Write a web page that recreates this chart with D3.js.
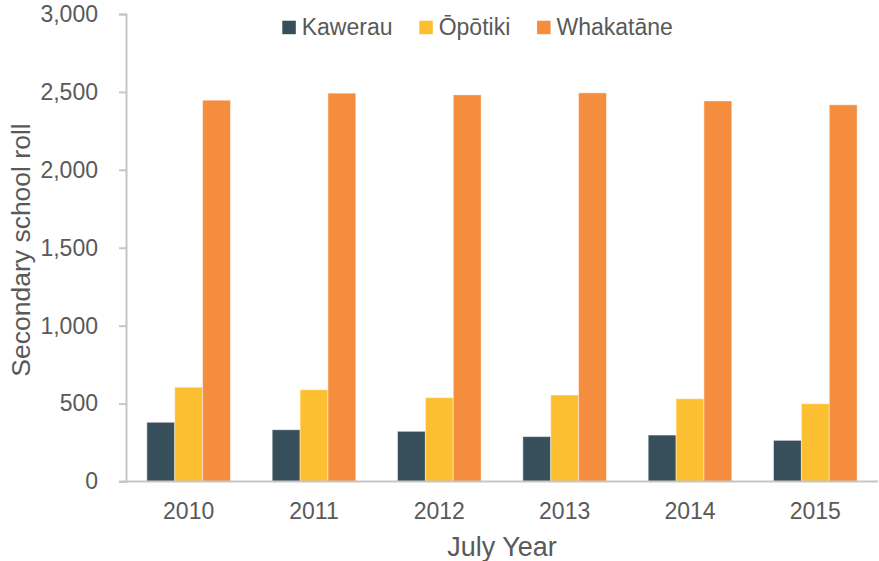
<!DOCTYPE html>
<html>
<head>
<meta charset="utf-8">
<script src="https://cdn.jsdelivr.net/npm/d3@7"></script>
<style>
  body { margin: 0; background: #fff; }
  text { font-family: "Liberation Sans", Arial, sans-serif; fill: #595959; }
</style>
</head>
<body>
<svg width="879" height="561"></svg>
<script>
// chart data
const years = ["2010", "2011", "2012", "2013", "2014", "2015"];
const seriesNames = ["Kawerau", "Ōpōtiki", "Whakatāne"];
const kawerau = [380, 332, 322, 288, 298, 264];
const opotiki = [605, 589, 538, 555, 531, 499];
const whakatane = [2447, 2492, 2481, 2494, 2442, 2417];
const yTicks = [0, 500, 1000, 1500, 2000, 2500, 3000];

const colours = ["#374f5a", "#fdbf32", "#f58d3e"];
const values = [kawerau, opotiki, whakatane];

let svg = d3.select("svg");
const plotLeft = 126, plotRight = 878, plotTop = 14, plotBottom = 481.5;

let x = d3.scaleBand().domain(years).range([plotLeft, plotRight]).paddingInner(0.333).paddingOuter(0.1665);
let xs = d3.scaleBand().domain(seriesNames).range([0, x.bandwidth()]);
let y = d3.scaleLinear().domain([0, 3000]).range([plotBottom, plotTop]);

let table = years.map(function (yr, i) {
    return seriesNames.map(function (s, j) {
        return { year: yr, series: s, value: values[j][i], colour: colours[j] };
    });
});

// bars
svg.append("g").selectAll("g")
    .data(table)
    .enter()
    .append("g")
    .attr("transform", function (d) { return "translate(" + x(d[0].year) + ",0)"; })
    .selectAll("rect")
    .data(function (d) { return d; })
    .enter()
    .append("rect")
    .attr("x", function (d) { return xs(d.series); })
    .attr("width", xs.bandwidth())
    .attr("y", function (d) { return y(d.value); })
    .attr("height", function (d) { return y(0) - y(d.value); })
    .attr("fill", function (d) { return d.colour; })
    .attr("stroke", "rgba(255,255,255,0.45)")
    .attr("stroke-width", 1);

// y axis
let yAxis = svg.append("g")
    .attr("transform", "translate(" + plotLeft + ",0)")
    .call(d3.axisLeft(y).tickValues(yTicks).tickFormat(d3.format(",")).tickSizeInner(7).tickSizeOuter(7).tickPadding(21));
yAxis.selectAll("path, line").attr("stroke", "#c6c6c6").attr("stroke-width", 2);
yAxis.selectAll("text").style("font-size", "23px").attr("fill", "#595959").style("font-family", "Liberation Sans, Arial, sans-serif");

// baseline
svg.append("line")
    .attr("x1", plotLeft - 7).attr("x2", plotRight)
    .attr("y1", y(0)).attr("y2", y(0))
    .attr("stroke", "#c6c6c6").attr("stroke-width", 2);

// x labels
svg.append("g").selectAll("text")
    .data(years)
    .enter()
    .append("text")
    .attr("x", function (d) { return x(d) + x.bandwidth() / 2; })
    .attr("y", 519)
    .attr("text-anchor", "middle")
    .style("font-size", "23px")
    .text(function (d) { return d; });

// axis titles
svg.append("text")
    .attr("x", 502).attr("y", 556)
    .attr("text-anchor", "middle")
    .style("font-size", "27px")
    .text("July Year");

svg.append("text")
    .attr("transform", "translate(30,250) rotate(-90)")
    .attr("text-anchor", "middle")
    .style("font-size", "26.5px")
    .text("Secondary school roll");

// legend
let legend = svg.append("g");
let lx = 282.3;
seriesNames.forEach(function (s, j) {
    legend.append("rect")
        .attr("x", lx).attr("y", 20.7)
        .attr("width", 13.5).attr("height", 13.5)
        .attr("fill", colours[j]);
    let t = legend.append("text")
        .attr("x", lx + 19.4).attr("y", 34.7)
        .style("font-size", "23px")
        .text(s);
    lx = lx + 19.4 + t.node().getComputedTextLength() + 26.8;
});
</script>
</body>
</html>
